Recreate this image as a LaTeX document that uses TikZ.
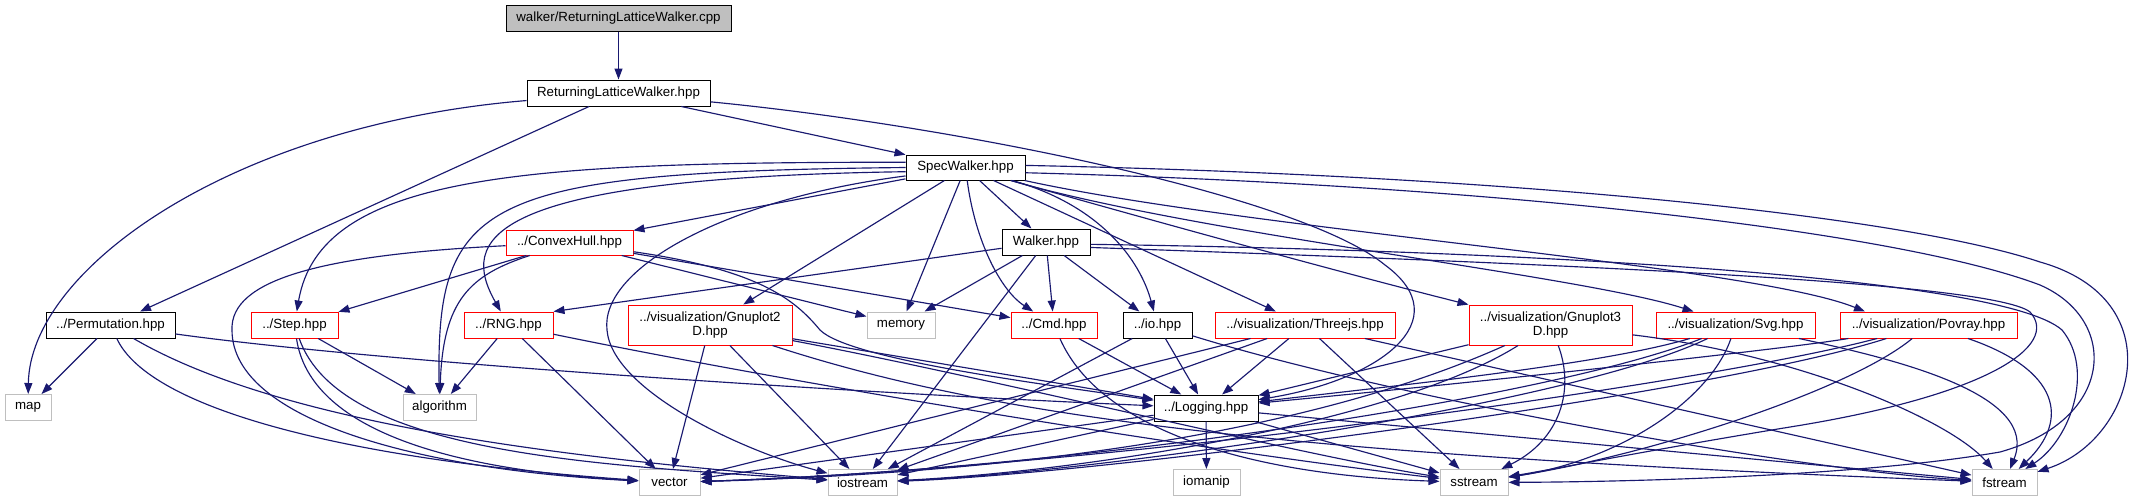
\documentclass[tikz,border=0pt]{standalone}
\usepackage{fontspec}
\setmainfont{Liberation Sans}
\usetikzlibrary{arrows.meta}
\definecolor{edgecol}{HTML}{191970}
\definecolor{grayb}{HTML}{BFBFBF}
\definecolor{redb}{HTML}{FF0000}
\tikzset{
  box/.style={draw, line width=1pt, minimum height=26pt, inner sep=0pt, fill=white,
              font=\fontsize{13.3}{13.6}\selectfont, align=center},
  bbox/.style={box, draw=black},
  rbox/.style={box, draw=redb},
  gbox/.style={box, draw=grayb},
  dep/.style={draw=edgecol, line width=1.15pt, -{Triangle[length=11pt,width=8pt]}}
}
\begin{document}
\begin{tikzpicture}[x=1pt,y=-1pt]
\fill[white] (0,0) rectangle (2138,501);
\useasboundingbox (0,0) rectangle (2138,501);

% nodes
\node[bbox, fill=grayb, minimum width=225pt] (cpp) at (618.5,18) {walker/ReturningLatticeWalker.cpp};
\node[bbox, minimum width=183pt] (rlw) at (618.5,93) {ReturningLatticeWalker.hpp};
\node[bbox, minimum width=119pt, minimum height=25pt] (spec) at (965.5,167.5) {SpecWalker.hpp};
\node[rbox, minimum width=127pt, minimum height=25pt] (ch) at (569.5,242.5) {../ConvexHull.hpp};
\node[bbox, minimum width=88pt] (walker) at (1046,242) {Walker.hpp};
\node[bbox, minimum width=129pt] (perm) at (110.5,325) {../Permutation.hpp};
\node[rbox, minimum width=87pt] (step) at (294.5,325) {../Step.hpp};
\node[rbox, minimum width=89pt] (rng) at (508.5,325) {../RNG.hpp};
\node[rbox, minimum width=164pt, minimum height=40pt] (gnu2) at (710,325) {../visualization/Gnuplot2\\D.hpp};
\node[gbox, minimum width=68pt] (memory) at (901,325) {memory};
\node[rbox, minimum width=86pt] (cmd) at (1054,325) {../Cmd.hpp};
\node[bbox, minimum width=69pt] (io) at (1157.5,325) {../io.hpp};
\node[rbox, minimum width=180pt] (three) at (1305,325) {../visualization/Threejs.hpp};
\node[rbox, minimum width=163pt, minimum height=40pt] (gnu3) at (1550.5,325) {../visualization/Gnuplot3\\D.hpp};
\node[rbox, minimum width=159pt] (svg) at (1735.5,325) {../visualization/Svg.hpp};
\node[rbox, minimum width=177pt] (povray) at (1928.5,325) {../visualization/Povray.hpp};
\node[gbox, minimum width=46pt] (map) at (28,407.5) {map};
\node[gbox, minimum width=73pt] (algo) at (439.5,407.5) {algorithm};
\node[bbox, minimum width=104pt] (logging) at (1206,408) {../Logging.hpp};
\node[gbox, minimum width=61pt] (vector) at (669.5,482.5) {vector};
\node[gbox, minimum width=69pt] (iostream) at (862.5,482.5) {iostream};
\node[gbox, minimum width=67pt] (iomanip) at (1206.5,482.5) {iomanip};
\node[gbox, minimum width=68pt] (sstream) at (1474,482.5) {sstream};
\node[gbox, minimum width=65pt] (fstream) at (2004.5,482.5) {fstream};

% cpp and RLW
\draw[dep] (cpp) -- (rlw);
\draw[dep] (rlw) .. controls (230,125) and (30,270) .. (map);
\draw[dep] (rlw) -- (perm);
\draw[dep] (rlw) -- (spec);
\draw[dep] (rlw) .. controls (950,125) and (1300,195) .. (1385,265) .. controls (1460,320) and (1380,380) .. (logging);

% Permutation
\draw[dep] (perm) -- (map);
\draw[dep] (perm) .. controls (150,410) and (350,460) .. (vector);
\draw[dep] (perm) .. controls (290,430) and (600,460) .. (iostream);
\draw[dep] (perm) .. controls (400,365) and (900,395) .. (logging);

% SpecWalker
\draw[dep] (spec) -- (ch);
\draw[dep] (spec.175) .. controls (520,162) and (320,175) .. (step);
\draw[dep] (spec.180) .. controls (480,172) and (436,200) .. (algo);
\draw[dep] (spec.184) .. controls (480,178) and (460,240) .. (rng);
\draw[dep] (spec.188) .. controls (720,200) and (600,270) .. (607,330) .. controls (612,390) and (740,450) .. (iostream);
\draw[dep] (spec) -- (gnu2);
\draw[dep] (spec) -- (memory);
\draw[dep] (spec) .. controls (975,240) and (1000,290) .. (cmd);
\draw[dep] (spec) -- (walker);
\draw[dep] (spec) .. controls (1100,205) and (1140,260) .. (io);
\draw[dep] (spec) -- (three);
\draw[dep] (spec) .. controls (1150,220) and (1350,275) .. (gnu3);
\draw[dep] (spec) .. controls (1200,235) and (1580,275) .. (svg);
\draw[dep] (spec) .. controls (1250,230) and (1750,265) .. (povray.168);
\draw[dep] (spec.2) .. controls (1500,175) and (1900,215) .. (2040,262) .. controls (2175,300) and (2135,440) .. (fstream);
\draw[dep] (spec.355) .. controls (1500,185) and (1900,232) .. (2040,285) .. controls (2120,320) and (2115,420) .. (2000,452) .. controls (1850,478) and (1600,482) .. (sstream);

% Walker
\draw[dep] (walker) -- (rng.north east);
\draw[dep] (walker) -- (memory);
\draw[dep] (walker) -- (iostream);
\draw[dep] (walker) -- (cmd);
\draw[dep] (walker) -- (io);
\draw[dep] (walker.357) .. controls (1500,250) and (2000,275) .. (2062,330) .. controls (2095,370) and (2070,440) .. (fstream);
\draw[dep] (walker.353) .. controls (1500,262) and (1990,280) .. (2030,312) .. controls (2060,345) and (1990,395) .. (1790,427) .. controls (1650,450) and (1560,468) .. (sstream);

% ConvexHull
\draw[dep] (ch) -- (step);
\draw[dep] (ch) .. controls (320,255) and (230,280) .. (232,330) .. controls (232,420) and (420,470) .. (vector);
\draw[dep] (ch) .. controls (470,275) and (443,300) .. (algo);
\draw[dep] (ch) -- (memory);
\draw[dep] (ch) -- (cmd);
\draw[dep] (ch) .. controls (760,270) and (795,300) .. (820,330) .. controls (850,360) and (1050,385) .. (logging);

% Step
\draw[dep] (step) -- (algo);
\draw[dep] (step) .. controls (310,430) and (450,470) .. (vector);
\draw[dep] (step) .. controls (340,455) and (600,465) .. (iostream);

% RNG
\draw[dep] (rng) -- (algo);
\draw[dep] (rng) -- (vector);
\draw[dep] (rng) .. controls (800,385) and (1200,450) .. (sstream);

% Gnuplot2D
\draw[dep] (gnu2) -- (vector);
\draw[dep] (gnu2) -- (iostream);
\draw[dep] (gnu2) -- (logging);
\draw[dep] (gnu2) .. controls (1000,380) and (1300,455) .. (sstream);
\draw[dep] (gnu2) .. controls (1000,420) and (1300,455) .. (fstream);

% Cmd
\draw[dep] (cmd) -- (logging);
\draw[dep] (cmd) .. controls (1100,430) and (1250,475) .. (sstream);

% io
\draw[dep] (io) -- (logging);
\draw[dep] (io) -- (iostream);
\draw[dep] (io) .. controls (1400,400) and (1800,470) .. (fstream);

% Threejs
\draw[dep] (three) -- (logging);
\draw[dep] (three) -- (vector);
\draw[dep] (three) -- (iostream);
\draw[dep] (three) -- (sstream);
\draw[dep] (three) -- (fstream);

% Gnuplot3D
\draw[dep] (gnu3) -- (logging);
\draw[dep] (gnu3) .. controls (1350,415) and (1100,470) .. (vector);
\draw[dep] (gnu3) .. controls (1400,420) and (1100,470) .. (iostream);
\draw[dep] (gnu3) .. controls (1575,390) and (1560,440) .. (sstream);
\draw[dep] (gnu3) .. controls (1800,355) and (1950,420) .. (fstream);

% Svg
\draw[dep] (svg) .. controls (1600,365) and (1400,385) .. (logging);
\draw[dep] (svg) .. controls (1560,395) and (1100,468) .. (vector);
\draw[dep] (svg) .. controls (1570,405) and (1100,472) .. (iostream);
\draw[dep] (svg) .. controls (1710,400) and (1620,460) .. (sstream);
\draw[dep] (svg) .. controls (1900,360) and (2040,395) .. (fstream);

% Povray
\draw[dep] (povray) .. controls (1780,350) and (1450,385) .. (logging);
\draw[dep] (povray) .. controls (1700,385) and (1100,468) .. (vector);
\draw[dep] (povray) .. controls (1710,395) and (1100,474) .. (iostream);
\draw[dep] (povray) .. controls (1850,390) and (1650,455) .. (sstream);
\draw[dep] (povray) .. controls (2060,370) and (2070,420) .. (fstream);

% Logging
\draw[dep] (logging) -- (iomanip);
\draw[dep] (logging) -- (vector);
\draw[dep] (logging) -- (iostream);
\draw[dep] (logging) -- (sstream);
\draw[dep] (logging) -- (fstream);
\end{tikzpicture}
\end{document}
